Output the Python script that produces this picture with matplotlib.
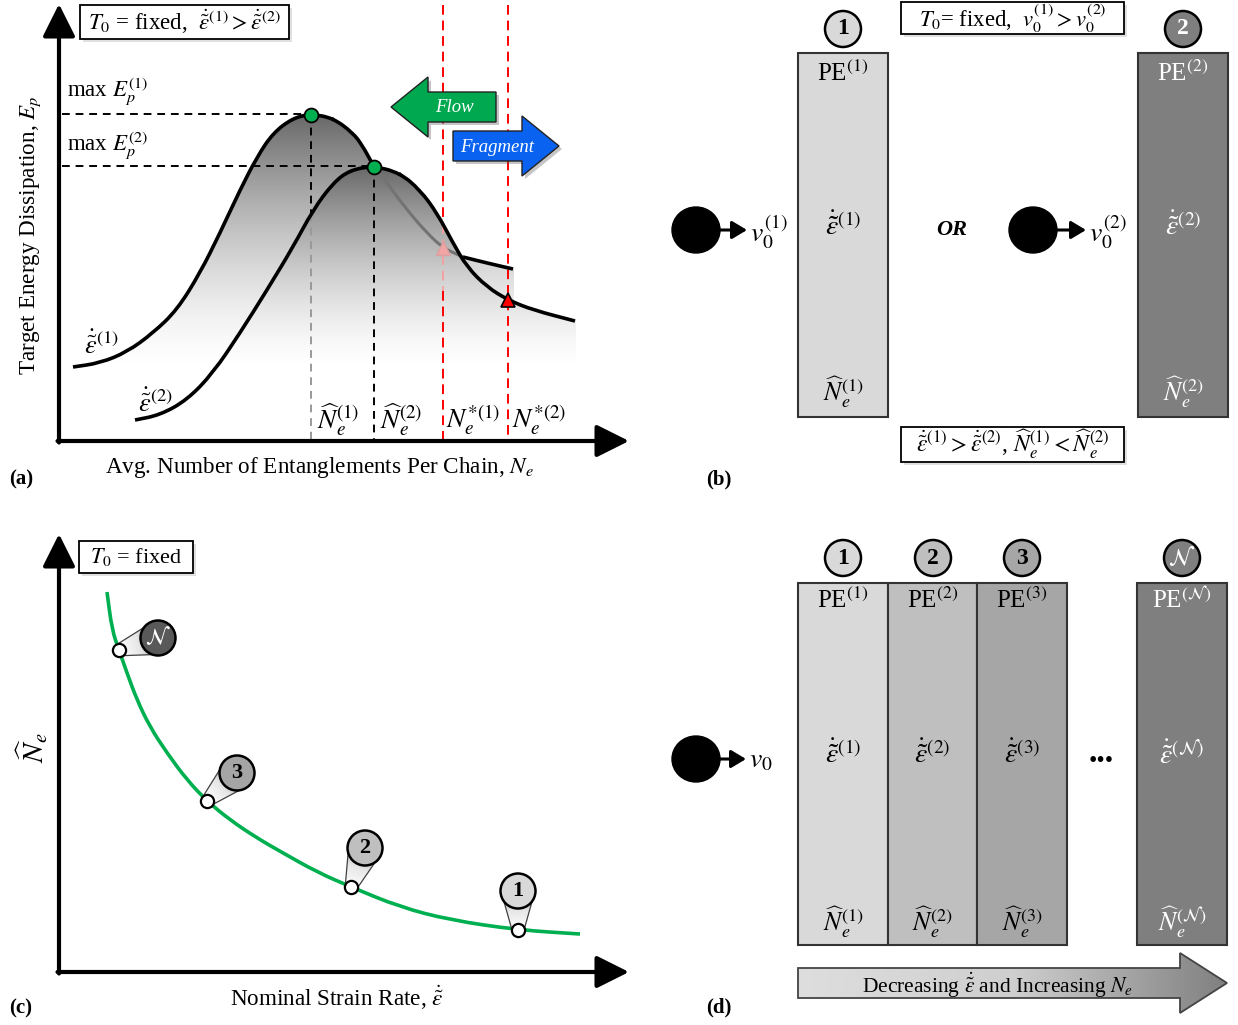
import numpy as np
import matplotlib.pyplot as plt
from matplotlib import patches
from matplotlib.path import Path
from matplotlib.colors import LinearSegmentedColormap

plt.rcParams['font.family'] = 'Liberation Serif'
plt.rcParams['mathtext.fontset'] = 'stix'

W, H = 1238, 1025

# ---- panel (a): energy dissipation vs entanglements (units)
ne_1 = [14, 41, 68, 94, 118, 141, 161, 181, 198, 214, 234, 252, 274, 294, 303, 313, 328, 348, 368, 384, 404, 428, 454]
ep_1 = [74, 78, 89, 108, 131, 168, 208, 251, 284, 308, 323, 327, 323, 308, 296, 278, 258, 231, 208, 193, 184, 178, 172]
ne_2 = [76, 101, 128, 154, 181, 208, 234, 254, 274, 291, 315, 341, 361, 378, 394, 408, 428, 449, 474, 516]
ep_2 = [21, 26, 41, 68, 108, 151, 194, 231, 258, 271, 275, 268, 251, 228, 198, 174, 154, 141, 131, 120]
peak_idx = [11, 10]        # max E_p of each curve
star_idx = [19, 17]        # fragmentation points N_e*
rate_labels = [r'$\dot{\tilde{\varepsilon}}^{(1)}$', r'$\dot{\tilde{\varepsilon}}^{(2)}$']

# ---- panel (c): N_e-hat vs nominal strain rate
rate_c = [48, 53, 60, 68, 78, 91, 108, 128, 148, 171, 198, 224, 258, 292, 341, 391, 459, 521]
nehat_c = [380, 342, 322, 299, 272, 245, 219, 192, 171, 152, 134, 119, 100, 85, 65, 52, 42, 38]
marker_idx = [2, 8, 13, 16]
callout_tags = [r'$\mathcal{N}$', '3', '2', '1']
callout_cols = ['#595959', '#A5A5A5', '#BFBFBF', '#D9D9D9']
callout_dxy = [(39, 12), (30, 28), (14, 39), (0, 39)]

# ---- panels (b) and (d): specimen columns
tags_b = ['1', '2']
cols_b = ['#D9D9D9', '#7F7F7F']
tags_d = ['1', '2', '3', r'\mathcal{N}']
cols_d = ['#D9D9D9', '#BFBFBF', '#A6A6A6', '#7F7F7F']

fig = plt.figure(figsize=(W / 100, H / 100), dpi=100)


def add_panel(x0, y0, w, h, xlim, ylim):
    ax = fig.add_axes([x0 / W, 1 - (y0 + h) / H, w / W, h / H])
    ax.set_axis_off()
    ax.lims = (xlim, ylim)
    return ax


def finish(ax):
    ax.set_xlim(*ax.lims[0])
    ax.set_ylim(*ax.lims[1])


def smooth(x, y):
    pts = np.column_stack([x, y]).astype(float)
    mids = (pts[:-1] + pts[1:]) / 2
    verts = [pts[0], mids[0]]
    codes = [Path.MOVETO, Path.LINETO]
    for i in range(1, len(pts) - 1):
        verts += [pts[i], mids[i]]
        codes += [Path.CURVE3, Path.CURVE3]
    verts.append(pts[-1])
    codes.append(Path.LINETO)
    return Path(verts, codes)


def axis_arrows(ax, xmax, ymax):
    kw = dict(arrowstyle='-|>,head_length=1.0,head_width=0.5', lw=3, color='k',
              shrinkA=0, shrinkB=0, mutation_scale=20)
    ax.annotate('', xy=(0, ymax), xytext=(0, -1.5), arrowprops=kw)
    ax.annotate('', xy=(xmax, 0), xytext=(-1.5, 0), arrowprops=kw)


def boxed(ax, x, y, w, h, s, size=16, flip=1):
    ax.add_patch(patches.Rectangle((x + 3, y - 3 * flip), w, h, fc='0.8', ec='none', alpha=0.6, zorder=6))
    ax.add_patch(patches.Rectangle((x, y), w, h, fc='w', ec='k', lw=1.3, zorder=7))
    ax.text(x + w / 2, y + h / 2, s, ha='center', va='center', fontsize=size, zorder=8)


def badge(ax, x, y, r, tag, fc, size=15):
    tc = 'w' if fc in ('#7F7F7F', '#595959') else 'k'
    ax.add_patch(patches.Circle((x, y), r, fc=fc, ec='k', lw=1.8, zorder=9))
    ax.text(x, y, tag, ha='center', va='center', fontsize=size, fontweight='bold',
            color=tc, zorder=10)


# ================= (a)
ax = add_panel(0, 0, 640, 490, (-59, 581), (-49, 441))
xg = np.arange(0, 560)
hg = np.arange(0, 335)
X, Hh = np.meshgrid(xg, hg)
alpha = np.zeros(X.shape)
for nx, ey in ((ne_1, ep_1), (ne_2, ep_2)):
    env = np.interp(xg, nx, ey, left=-1, right=-1)
    t = np.clip((Hh - 70) / (max(ey) - 70), 0, 1)
    alpha = np.maximum(alpha, np.where(Hh <= env, 0.6 * t ** 1.5, 0))
rgba = np.zeros(X.shape + (4,))
rgba[..., 3] = alpha
ax.imshow(rgba, extent=(0, 560, 0, 335), origin='lower', aspect='auto',
          interpolation='bilinear', zorder=1)

p1x, p1y = ne_1[peak_idx[0]], ep_1[peak_idx[0]]
p2x, p2y = ne_2[peak_idx[1]], ep_2[peak_idx[1]]
dash = (0, (4, 3))
ax.plot([3, p1x], [p1y, p1y], color='k', lw=1.4, ls=dash, zorder=2)
ax.plot([3, p2x], [p2y, p2y], color='k', lw=1.4, ls=dash, zorder=2)
cross = np.interp(p1x, ne_2, ep_2)
ax.plot([p1x, p1x], [p1y, cross], color='k', lw=1.4, ls=dash, zorder=2)
ax.plot([p1x, p1x], [cross, 0], color='0.6', lw=1.4, ls=dash, zorder=2)
ax.plot([p2x, p2x], [p2y, 0], color='k', lw=1.4, ls=dash, zorder=2)

s1x, s1y = ne_1[star_idx[0]], ep_1[star_idx[0]]
s2x, s2y = ne_2[star_idx[1]], ep_2[star_idx[1]]
c2 = np.interp(s1x, ne_2, ep_2)
red_ls = (0, (5, 3))
ax.plot([s1x, s1x], [436, c2], color='#FF0000', lw=1.4, ls=red_ls, zorder=2)
ax.plot([s1x, s1x], [c2, 150], color='#F5A0A0', lw=1.4, ls=red_ls, zorder=2)
ax.plot([s1x, s1x], [150, 0], color='#FF0000', lw=1.4, ls=red_ls, zorder=2)
ax.plot([s2x, s2x], [436, 0], color='#FF0000', lw=1.4, ls=red_ls, zorder=2)

# curve 1: black, grey where it lies under the shade of curve 2
ax.add_patch(patches.PathPatch(smooth(ne_1[:16], ep_1[:16]), fill=False, ec='k', lw=2.6, zorder=3))
ax.add_patch(patches.PathPatch(smooth(ne_1[15:21], ep_1[15:21]), fill=False, ec='0.45', lw=2.2, zorder=3))
ax.add_patch(patches.PathPatch(smooth(ne_1[20:], ep_1[20:]), fill=False, ec='k', lw=2.6, zorder=3))
ax.add_patch(patches.PathPatch(smooth(ne_2, ep_2), fill=False, ec='k', lw=2.6, zorder=3))

ax.plot([p1x, p2x], [p1y - 1, p2y - 1], 'o', ms=10, mfc='#00B050', mec='k', mew=1.3, zorder=6)
ax.plot(s1x, s1y, '^', ms=10, mfc='#F2A5A5', mec='#D8A0A0', mew=1, zorder=5)
ax.plot(s2x, s2y, '^', ms=10, mfc='#FF0000', mec='k', mew=1.2, zorder=6)

arrow_kw = dict(width=30, head_width=60, head_length=37, length_includes_head=True)
for (x, y, dx, fc) in ((437, 334, -105, '#00A84F'), (394, 295, 106, '#0A62F0')):
    ax.add_patch(patches.FancyArrow(x + 3, y - 3, dx, 0, fc='0.35', ec='none', alpha=0.35,
                                    zorder=6, **arrow_kw))
    ax.add_patch(patches.FancyArrow(x, y, dx, 0, fc=fc, ec='#222', lw=1, zorder=7, **arrow_kw))
ax.text(395, 333, 'Flow', color='w', style='italic', fontsize=13.5, ha='center', va='center', zorder=8)
ax.text(438, 294, 'Fragment', color='w', style='italic', fontsize=13.5, ha='center', va='center', zorder=8)

ax.text(8, 349, r'max $E_p^{(1)}$', fontsize=16.5, va='center', zorder=8)
ax.text(8, 295, r'max $E_p^{(2)}$', fontsize=16.5, va='center', zorder=8)
ax.text(42, 96, rate_labels[0], fontsize=19, ha='center', va='center')
ax.text(96, 38, rate_labels[1], fontsize=19, ha='center', va='center')
for x, s in zip([p1x + 27, p2x + 27, s1x + 30, s2x + 31],
                [r'$\widehat{N}_e^{(1)}$', r'$\widehat{N}_e^{(2)}$', r'$N_e^{*(1)}$', r'$N_e^{*(2)}$']):
    ax.text(x, 21, s, fontsize=19.5, ha='center', va='center', zorder=8)

boxed(ax, 21, 402, 209, 34,
      r'$T_0$ = fixed,  $\dot{\tilde{\varepsilon}}^{(1)} > \dot{\tilde{\varepsilon}}^{(2)}$', size=16.5)
axis_arrows(ax, 570, 437)
ax.text(-28, 206, r'Target Energy Dissipation, $E_p$', rotation=90, fontsize=16.7, ha='center', va='center')
ax.text(260, -26, r'Avg. Number of Entanglements Per Chain, $N_e$', fontsize=16.7, ha='center', va='center')
ax.text(-38, -38, '(a)', fontsize=15, fontweight='bold', ha='center', va='center')
finish(ax)

# ================= (c)
ax = add_panel(0, 520, 640, 505, (-59, 581), (-53, 452))
ax.add_patch(patches.PathPatch(smooth(rate_c, nehat_c), fill=False, ec='#00B050', lw=2.6, zorder=3))
shade = LinearSegmentedColormap.from_list('s', ['#FFFFFF', '#E6E6E6', '#9A9A9A'])
for i, tag, fc, (dx, dy) in zip(marker_idx, callout_tags, callout_cols, callout_dxy):
    mx, my = rate_c[i], nehat_c[i]
    cx, cy = mx + dx, my + dy
    d = np.hypot(dx, dy)
    px, py = -dy / d, dx / d
    wedge = [(mx + 6 * px, my + 6 * py), (cx + 17 * px, cy + 17 * py),
             (cx - 17 * px, cy - 17 * py), (mx - 6 * px, my - 6 * py)]
    wp = patches.Polygon(wedge, closed=True, fc='none', ec='0.25', lw=0.9, zorder=5)
    ax.add_patch(wp)
    x0, x1 = min(mx, cx) - 20, max(mx, cx) + 20
    y0, y1 = min(my, cy) - 20, max(my, cy) + 20
    gx, gy = np.meshgrid(np.linspace(x0, x1, 60), np.linspace(y0, y1, 60))
    tt = np.clip(((gx - mx) * dx + (gy - my) * dy) / d ** 2, 0, 1)
    im = ax.imshow(tt, extent=(x0, x1, y0, y1), origin='lower', cmap=shade, vmin=0, vmax=1,
                   aspect='auto', interpolation='bilinear', zorder=4)
    im.set_clip_path(wp)
    badge(ax, cx, cy, 17.5, tag, fc, size=16)
    ax.plot(mx, my, 'o', ms=9.5, mfc='w', mec='k', mew=1.6, zorder=11)

boxed(ax, 20, 399, 114, 32, r'$T_0$ = fixed', size=16)
axis_arrows(ax, 570, 438)
ax.text(-26, 224, r'$\widehat{N}_e$', rotation=90, fontsize=21, ha='center', va='center')
ax.text(278, -26, r'Nominal Strain Rate, $\dot{\tilde{\varepsilon}}$', fontsize=16.7, ha='center', va='center')
ax.text(-38, -36, '(c)', fontsize=15, fontweight='bold', ha='center', va='center')
finish(ax)


def column(ax, x0, y0, w, h, fc, tag, ys):
    tc = 'w' if fc == '#7F7F7F' else 'k'
    ax.add_patch(patches.Rectangle((x0, y0), w, h, fc=fc, ec='#333', lw=1.5, zorder=2))
    cx = x0 + w / 2
    ax.text(cx, ys[0], r'PE$^{(%s)}$' % tag, color=tc, fontsize=18, ha='center', va='center', zorder=3)
    ax.text(cx, ys[1], r'$\dot{\tilde{\varepsilon}}^{(%s)}$' % tag, color=tc, fontsize=20, ha='center', va='center', zorder=3)
    ax.text(cx, ys[2], r'$\widehat{N}_e^{(%s)}$' % tag, color=tc, fontsize=18.5, ha='center', va='center', zorder=3)


def striker(ax, x, y, label, x_end):
    ax.add_patch(patches.Ellipse((x, y), 48, 46, fc='k', ec='k', zorder=3))
    ax.annotate('', xy=(x_end, y), xytext=(x + 20, y),
                arrowprops=dict(arrowstyle='-|>,head_length=0.5,head_width=0.3', lw=2.2, color='k',
                                shrinkA=0, shrinkB=0, mutation_scale=18))
    ax.text(x_end + 3, y + 2, label, fontsize=20, ha='left', va='center')


# ================= (b)
ax = add_panel(640, 0, 598, 490, (640, 1238), (490, 0))
for x0, fc, tag in zip([798, 1138], cols_b, tags_b):
    column(ax, x0, 53, 90, 364, fc, tag, (73, 227, 392))
    badge(ax, x0 + 45, 29, 18, tag, fc, size=17)
striker(ax, 696, 230, r'$v_0^{(1)}$', 747)
striker(ax, 1033, 230, r'$v_0^{(2)}$', 1086)
ax.text(952, 230, 'OR', fontsize=16, fontweight='bold', style='italic', ha='center', va='center')

boxed(ax, 901, 2, 223, 32, r'$T_0$= fixed,  $v_0^{(1)} > v_0^{(2)}$', size=16.3, flip=-1)
boxed(ax, 901, 427, 223, 35,
      r'$\dot{\tilde{\varepsilon}}^{(1)} > \dot{\tilde{\varepsilon}}^{(2)}$, '
      r'$\widehat{N}_e^{(1)} < \widehat{N}_e^{(2)}$', size=17, flip=-1)
ax.text(719, 479, '(b)', fontsize=15, fontweight='bold', ha='center', va='center')
finish(ax)

# ================= (d)
ax = add_panel(640, 520, 598, 505, (640, 1238), (1025, 520))
for x0, fc, tag in zip([798, 888, 977, 1137], cols_d, tags_d):
    column(ax, x0, 583, 90 if x0 != 888 else 89, 362, fc, tag, (600, 755, 922))
    badge(ax, x0 + 45, 558, 18, '$%s$' % tag if len(tag) > 1 else tag, fc, size=17)
ax.text(1101, 761, '\u2022\u2022\u2022', fontsize=17, ha='center', va='center')
striker(ax, 696, 759, r'$v_0$', 746)

big = [(798, 968), (1180, 968), (1180, 953), (1227, 983), (1180, 1013), (1180, 998), (798, 998)]
poly = patches.Polygon(big, closed=True, fc='none', ec='#444', lw=1.3, zorder=4)
ax.add_patch(poly)
grad = np.linspace(0, 1, 256)[None, :]
img = ax.imshow(grad, extent=(798, 1227, 1013, 953),
                cmap=LinearSegmentedColormap.from_list('g', ['#DEDEDE', '#CFCFCF', '#808080']),
                aspect='auto', zorder=3)
img.set_clip_path(poly)
ax.text(997, 985, r'Decreasing $\dot{\tilde{\varepsilon}}$ and Increasing $N_e$', fontsize=15.5,
        ha='center', va='center', zorder=5)
ax.text(719, 1007, '(d)', fontsize=15, fontweight='bold', ha='center', va='center')
finish(ax)

fig.savefig('out.png', dpi=100)
